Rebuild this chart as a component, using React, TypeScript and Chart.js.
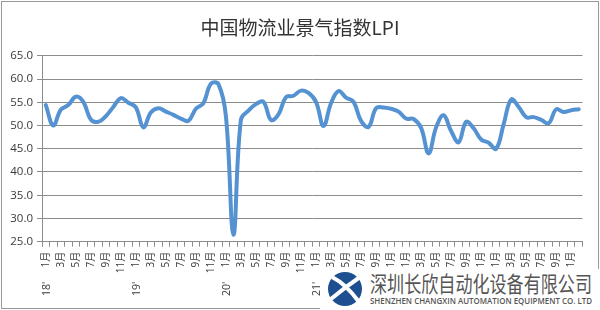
import React, { useEffect, useRef } from 'react';
import { Chart, registerables } from 'chart.js';

Chart.register(...registerables);

const TITLE = '中国物流业景气指数LPI';
const yearLabels = ["18'", "19'", "20'", "21'", "22'", "23'"];
const monthLabels = ['1月', '2月', '3月', '4月', '5月', '6月', '7月', '8月', '9月', '10月', '11月', '12月'];

const lpi2018 = [54.4, 50.0, 53.4, 54.4, 56.2, 55.1, 51.3, 50.8, 52.0, 54.0, 55.9, 54.9];
const lpi2019 = [53.9, 49.6, 52.8, 53.7, 53.0, 52.3, 51.5, 51.0, 53.6, 54.8, 59.0, 58.9];
const lpi2020 = [52.0, 26.5, 51.3, 53.2, 54.6, 55.1, 51.2, 52.4, 56.1, 56.4, 57.5, 57.0];
const lpi2021 = [55.1, 49.9, 54.8, 57.4, 56.0, 55.1, 51.0, 49.7, 53.7, 53.9, 53.6, 53.0];
const lpi2022 = [51.5, 51.4, 49.5, 44.0, 49.6, 52.2, 48.8, 46.4, 50.8, 49.4, 47.0, 46.3];
const lpi2023 = [45.0, 50.3, 55.6, 54.0, 51.8, 51.8, 51.2, 50.5, 53.5, 52.9, 53.3, 53.5];

const yearly = [lpi2018, lpi2019, lpi2020, lpi2021, lpi2022, lpi2023];
const values: number[] = yearly.flat();
const categories: string[] = [];
yearly.forEach((arr, yi) => arr.forEach((_, mi) => categories.push(yearLabels[yi] + monthLabels[mi])));

const GRID = '#8c8c8c';
const TEXT = '#3a3a3a';

const yearLabelPlugin = {
  id: 'yearLabels',
  afterDraw(chart: any) {
    const xs = chart.scales.x;
    const ctx = chart.ctx;
    ctx.save();
    ctx.fillStyle = TEXT;
    ctx.font = '10.5px "Open Sans", "Noto Sans CJK SC", sans-serif';
    ctx.textAlign = 'left';
    ctx.textBaseline = 'middle';
    yearLabels.forEach((lab, yi) => {
      const x = xs.getPixelForValue(yi * 12);
      ctx.save();
      ctx.translate(x + 1, 296);
      ctx.rotate(-Math.PI / 2);
      ctx.fillText(lab, 0, 0);
      ctx.restore();
    });
    ctx.restore();
  },
};

export default function App() {
  const ref = useRef<HTMLCanvasElement | null>(null);

  useEffect(() => {
    if (!ref.current) return;
    const chart = new Chart(ref.current, {
      type: 'line',
      data: {
        labels: categories,
        datasets: [
          {
            data: values,
            borderColor: '#5592d2',
            backgroundColor: '#5592d2',
            borderWidth: 4,
            pointRadius: 0,
            tension: 0.4,
            borderCapStyle: 'round',
            borderJoinStyle: 'round',
            fill: false,
          },
        ],
      },
      options: {
        responsive: false,
        animation: false,
        events: [],
        layout: { padding: { left: 0, right: 0, top: 0, bottom: 0 } },
        plugins: {
          legend: { display: false },
          tooltip: { enabled: false },
          title: {
            display: true,
            text: TITLE,
            color: '#333333',
            font: { family: '"Noto Sans CJK SC", sans-serif', size: 19, weight: 'normal' },
            padding: { top: 16, bottom: 17 },
          },
        },
        scales: {
          x: {
            offset: true,
            grid: {
              display: true,
              drawOnChartArea: false,
              drawTicks: true,
              tickLength: 5,
              color: GRID,
              offset: true,
            },
            border: { display: true, color: GRID, width: 1 },
            ticks: {
              autoSkip: false,
              maxRotation: 90,
              minRotation: 90,
              padding: 5,
              color: TEXT,
              font: { size: 10, family: '"Open Sans", "Noto Sans CJK SC", sans-serif' },
              callback: (_v: any, index: number) => (index % 2 === 0 ? monthLabels[index % 12] : ''),
            },
            afterFit: (s: any) => {
              s.height = 68.3;
            },
          },
          y: {
            min: 25,
            max: 65,
            grid: { color: GRID, tickLength: 5, lineWidth: 1 },
            border: { display: true, color: GRID, width: 1 },
            ticks: {
              stepSize: 5,
              padding: 4,
              color: TEXT,
              font: { size: 11.5, family: '"Open Sans", sans-serif' },
              callback: (v: any) => Number(v).toFixed(1),
            },
            afterFit: (s: any) => {
              s.width = 42;
            },
          },
          yRight: {
            position: 'right',
            display: true,
            min: 25,
            max: 65,
            grid: { display: false, drawTicks: false },
            border: { display: false },
            ticks: { display: false },
            afterFit: (s: any) => {
              s.width = 17.5;
            },
          },
        },
      },
      plugins: [yearLabelPlugin],
    } as any);
    return () => chart.destroy();
  }, []);

  return (
    <div style={{ position: 'absolute', left: 0, top: 0, width: 600, height: 310, background: '#ffffff', overflow: 'hidden' }}>
      <canvas ref={ref} width={600} height={310} style={{ position: 'absolute', left: 0, top: 0, width: 600, height: 310 }} />
      <div
        style={{
          position: 'absolute',
          left: 1,
          top: 1,
          width: 598,
          height: 308,
          boxSizing: 'border-box',
          border: '1px solid #9a9a9a',
          pointerEvents: 'none',
        }}
      />
      <svg
        width={280}
        height={41}
        viewBox="320 269 280 41"
        style={{ position: 'absolute', left: 320, top: 269 }}
      >
        <rect x={320} y={269} width={280} height={41} fill="#ffffff" />
        <circle cx={345} cy={289} r={17} fill="#1d4f91" />
        <path d="M332 277 Q346 284 359 302" stroke="#ffffff" strokeWidth={4} fill="none" strokeLinecap="round" />
        <path d="M360 277 Q344 288 331 299" stroke="#ffffff" strokeWidth={4} fill="none" strokeLinecap="round" />
        <text
          x={370}
          y={292}
          textLength={222}
          lengthAdjust="spacingAndGlyphs"
          fill="#555555"
          style={{ fontFamily: '"Noto Sans CJK SC", sans-serif', fontSize: 22 }}
        >
          深圳长欣自动化设备有限公司
        </text>
        <text
          x={370}
          y={304}
          textLength={222}
          lengthAdjust="spacingAndGlyphs"
          fill="#555555"
          style={{ fontFamily: '"Open Sans", sans-serif', fontSize: 8.5, fontWeight: 600 }}
        >
          SHENZHEN CHANGXIN AUTOMATION EQUIPMENT CO. LTD
        </text>
      </svg>
    </div>
  );
}
